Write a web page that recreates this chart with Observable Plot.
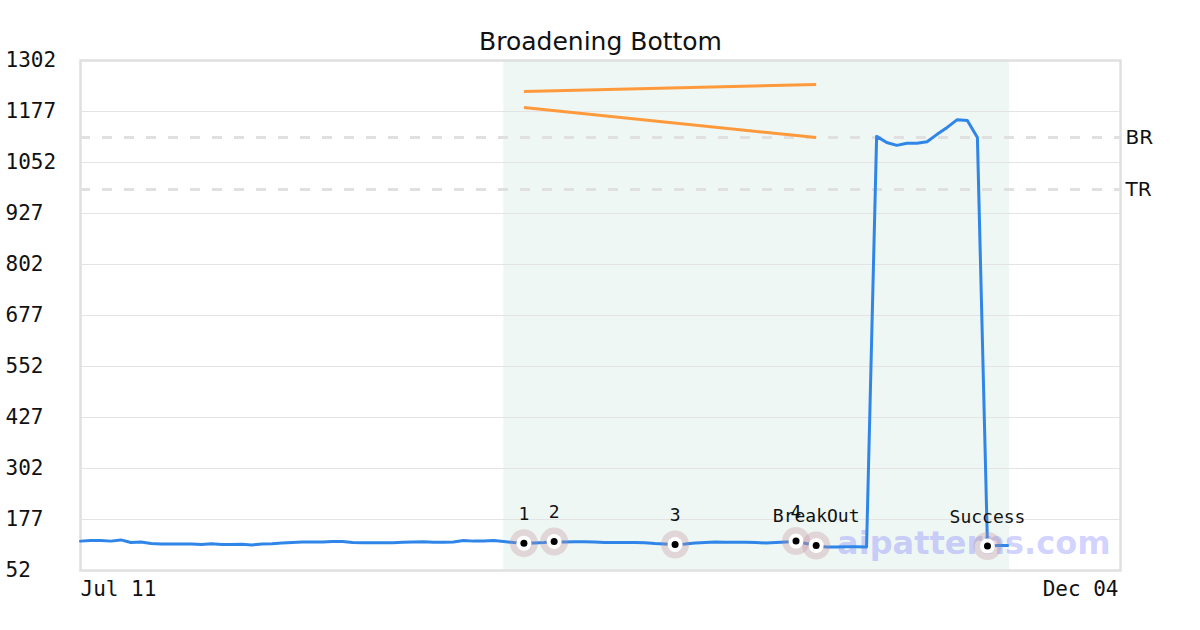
<!DOCTYPE html>
<html>
<head>
<meta charset="utf-8">
<script src="https://cdn.jsdelivr.net/npm/d3@7"></script>
<script src="https://cdn.jsdelivr.net/npm/@observablehq/plot@0.6"></script>
<style>
  html, body { margin: 0; padding: 0; background: #fff; }
  #chart svg { display: block; }
</style>
</head>
<body>
<div id="chart"></div>
<script>
// ---- data ----
const title = "Broadening Bottom";
const prices = [
  124, 125.5, 125.5, 124, 127, 120.5, 122, 118, 117, 117,
  117, 117, 116, 117.5, 116, 116, 116.5, 114.5, 117, 117.5,
  119.5, 120.5, 122, 122, 122, 123, 123, 120.5, 120, 120,
  120, 120, 121.5, 122, 122.5, 121.5, 121.5, 122, 125.5, 124,
  124.5, 125.5, 123, 120.5, 119, 119.5, 120.5, 123, 122, 122.5,
  122.5, 122, 120.5, 120.5, 120.5, 120.5, 120, 118, 117, 115.7,
  117, 119.5, 120.5, 122, 121.5, 121.5, 121.5, 120.5, 119.5, 120.5,
  122, 124, 118, 113.3, 109.6, 109.6, 110, 110, 109.6, 1116,
  1101, 1094, 1099, 1099, 1103, 1121, 1138, 1157, 1155, 1113,
  112, 113, 113
];
const markerIdx    = [44, 47, 59, 71, 73, 90];
const markerLabels = ["1", "2", "3", "4", "BreakOut", "Success"];
const yTicks = [52, 177, 302, 427, 552, 677, 802, 927, 1052, 1177, 1302];
const xTickIdx = [0, 103.2];
const xTickLabels = ["Jul 11", "Dec 04"];
const shadeStart = 42, shadeEnd = 92.2;
const levelNames = ["BR", "TR"];
const levelValues = [1113, 986];
const trendNames = ["upper", "lower"];
const trendStartIdx = [44, 44];
const trendStartVal = [1226, 1187];
const trendEndIdx = [73, 73];
const trendEndVal = [1243, 1113];
const watermark = "aipatterns.com";

// ---- tables ----
const series = prices.map((v, i) => ({i, v}));
const markers = markerIdx.map((i, k) => ({i, v: prices[i], label: markerLabels[k]}));
const levels = levelNames.map((n, k) => ({name: n, v: levelValues[k]}));
const trends = trendNames.map((n, k) => ({x1: trendStartIdx[k], y1: trendStartVal[k], x2: trendEndIdx[k], y2: trendEndVal[k]}));
const xTicks = xTickIdx.map((x, k) => ({x, label: xTickLabels[k]}));
const shade = [{x1: shadeStart, x2: shadeEnd, y1: yTicks[0], y2: yTicks[yTicks.length - 1]}];

const mono = "DejaVu Sans Mono";
const sans = "DejaVu Sans";

const chart = Plot.plot({
  width: 1200,
  height: 630,
  marginLeft: 80,
  marginRight: 80,
  marginTop: 60,
  marginBottom: 60,
  style: {fontFamily: mono, fontSize: "18px", background: "#fff", color: "#111"},
  x: {type: "linear", domain: [xTickIdx[0], xTickIdx[1]], axis: null},
  y: {type: "linear", domain: [yTicks[0], yTicks[yTicks.length - 1]], axis: null},
  marks: [
    Plot.rect(shade, {x1: "x1", x2: "x2", y1: "y1", y2: "y2", fill: "#eef7f3"}),
    Plot.ruleY(yTicks, {stroke: "#e4e4e4", strokeWidth: 1}),
    Plot.ruleY(levels, {y: "v", stroke: "#e0e0e0", strokeWidth: 3, strokeDasharray: "10,12"}),
    Plot.text(levels, {y: "v", text: "name", frameAnchor: "right", textAnchor: "start", dx: 5, fontFamily: sans, fontSize: 20, fill: "#111"}),
    Plot.frame({stroke: "#e0e0e0", strokeWidth: 2.5}),
    Plot.text(yTicks, {y: d => d, text: d => String(d), frameAnchor: "left", textAnchor: "start", dx: -75, fontSize: 21, fill: "#111"}),
    Plot.text(xTicks.slice(0, 1), {x: "x", text: "label", textAnchor: "start", frameAnchor: "bottom", fontSize: 21, fill: "#111", dy: 25}),
    Plot.text(xTicks.slice(1), {x: "x", text: "label", textAnchor: "end", frameAnchor: "bottom", dx: -2, fontSize: 21, fill: "#111", dy: 25}),
    Plot.text([title], {frameAnchor: "top", dy: -28, fontFamily: sans, fontSize: 25, fill: "#111"}),
    Plot.text([watermark], {frameAnchor: "bottom-right", textAnchor: "end", dx: -10, dy: -17, fontFamily: sans, fontWeight: "bold", fontSize: 32, fill: "#6464ff", fillOpacity: 0.3}),
    Plot.link(trends, {x1: "x1", y1: "y1", x2: "x2", y2: "y2", stroke: "#ff9a3c", strokeWidth: 3}),
    Plot.line(series, {x: "i", y: "v", stroke: "#2f86e8", strokeWidth: 3}),
    Plot.dot(markers, {x: "i", y: "v", r: 14, fill: "#c08a9c", fillOpacity: 0.3, stroke: "none"}),
    Plot.dot(markers, {x: "i", y: "v", r: 7.5, fill: "#fff", stroke: "none"}),
    Plot.dot(markers, {x: "i", y: "v", r: 3.5, fill: "#000", stroke: "none"}),
    Plot.text(markers, {x: "i", y: "v", text: "label", dy: -29, fontSize: 18, fill: "#111"})
  ]
});
document.getElementById("chart").appendChild(chart);
</script>
</body>
</html>
